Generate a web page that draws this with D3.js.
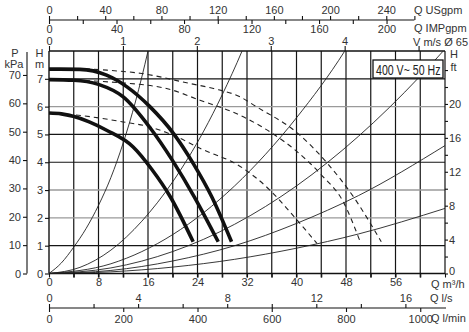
<!doctype html>
<html>
<head>
<script src="https://cdnjs.cloudflare.com/ajax/libs/d3/7.8.5/d3.min.js"></script>
<style>
body{margin:0;background:#fff;}
svg{display:block;font-family:"Liberation Sans",Arial,sans-serif;}
.axis text{font-size:11px;fill:#333;}
.axis line,.axis path{stroke:#111;stroke-width:1.1;}
.lbl{font-size:11px;fill:#333;}
</style>
</head>
<body>
<svg width="469" height="332"></svg>
<script>
// pump curves, Q in m3/h, H in m
var pumpMax = [[0,7.35],[5,7.34],[9.3,7.13],[12.6,6.71],[16.3,6.0],[20.1,5.04],[23.3,3.96],[26.3,2.76],[29.5,1.14]];
var pumpMid = [[0,6.97],[4,6.95],[8,6.8],[12,6.35],[16.3,5.25],[20,4.05],[23.5,2.75],[27.35,1.14]];
var pumpMin = [[0,5.77],[2,5.74],[3.9,5.65],[6.5,5.45],[9.3,5.15],[13.6,4.55],[16.6,3.75],[19.6,2.76],[23.3,1.14]];

// dashed curves (twin operation)
var dashMax = [[0,7.35],[5,7.36],[10,7.3],[14.7,7.2],[22.8,6.83],[26.6,6.65],[30.9,6.35],[33.5,6.0],[40.2,5.04],[45,3.96],[49.2,2.76],[53.7,1.14]];
var dashMid = [[0,6.97],[9.6,6.89],[19,6.65],[24.4,6.23],[30.9,5.69],[36,5.05],[40,4.4],[44,3.55],[47.5,2.6],[50.3,1.14]];
var dashMin = [[0,5.77],[1.8,5.75],[12,5.45],[16.3,5.27],[20.1,4.97],[24.4,4.5],[30.9,3.85],[35.7,3.0],[39,2.2],[43.3,1.08]];

// system curves from the origin
var sys1 = [[0,0],[2,0.38],[4,0.95],[6,1.62],[8,2.45],[10,3.45],[12,4.7],[14,6.2],[16,8],[17,9]];
var sys2 = [[0,0],[5,0.22],[10,0.84],[15,1.88],[20,3.3],[25,5.12],[28,6.43],[31.2,8],[33,9]];
var sys3 = [[0,0],[10,0.35],[20,1.4],[30,3.15],[40,5.6],[47.8,8],[50,8.8]];
var sys4 = [[0,0],[10,0.2],[20,0.79],[30,1.77],[40,3.15],[50,4.93],[60,7.1],[64,8.07]];
var sys5 = [[0,0],[10,0.11],[20,0.45],[30,1.0],[40,1.8],[50,2.8],[64,4.6]];
var sys6 = [[0,0],[10,0.06],[20,0.23],[30,0.51],[40,0.91],[50,1.42],[64,2.34]];

var gridQ = [4,8,12,16,20,24,28,32,36,40,44,48,52,56,60];
var gridHdark = [1,4,5,7];
var gridHgrey = [2,3,6];

var qTicks = [0,4,8,12,16,20,24,28,32,36,40,44,48,52,56,60,64];
var qLabels = [0,8,16,24,32,40,48,56];
var hTicks = [0,1,2,3,4,5,6,7];
var kpaTicks = [0,10,20,30,40,50,60,70];
var ftTicks = [0,2,4,6,8,10,12,14,16,18,20,22,24];
var ftLabels = [0,4,8,12,16,20];
var usTicks = [0,20,40,60,80,100,120,140,160,180,200,220,240,260];
var usLabels = [0,40,80,120,160,200,240];
var impTicks = [0,20,40,60,80,100,120,140,160,180,200];
var impLabels = [0,40,80,120,160,200];
var vTicks = [0,1,2,3,4,5];
var vLabels = [0,1,2,3,4];
var lsTicks = [0,2,4,6,8,10,12,14,16];
var lsLabels = [0,4,8,12,16];
var lminTicks = [0,200,400,600,800,1000];

var svg = d3.select("svg");
var L = 49, R = 445, T = 51, B = 273.5;

var x = d3.scaleLinear().domain([0,64]).range([L,R]);
var y = d3.scaleLinear().domain([0,8]).range([B,T]);
var kpa = d3.scaleLinear().domain([0,8*9.80665]).range([B,T]);
var ft = d3.scaleLinear().domain([0,8/0.3048]).range([B,T]);
var us = d3.scaleLinear().domain([0,64/0.2271247]).range([L,R]);
var imp = d3.scaleLinear().domain([0,64/0.272765]).range([L,R]);
var vel = d3.scaleLinear().domain([0,64/(3600*Math.PI*0.0325*0.0325)]).range([L,R]);
var ls = d3.scaleLinear().domain([0,64/3.6]).range([L,R]);
var lmin = d3.scaleLinear().domain([0,64/0.06]).range([L,R]);

function fmt(list){ return function(d){ return list.indexOf(d) >= 0 ? d : ""; }; }
function dropEmpty(g){ g.selectAll("text").filter(function(){ return this.textContent === ""; }).remove(); }

// grid
svg.append("g").selectAll("line").data(gridQ).enter().append("line")
  .attr("x1", d => x(d)).attr("x2", d => x(d))
  .attr("y1", T).attr("y2", B + 4)
  .attr("stroke", "#151515").attr("stroke-width", 1.2);
svg.append("g").selectAll("line").data(gridHgrey).enter().append("line")
  .attr("x1", L).attr("x2", R)
  .attr("y1", d => y(d)).attr("y2", d => y(d))
  .attr("stroke", "#9a9a9a").attr("stroke-width", 1.4);
svg.append("g").selectAll("line").data(gridHdark).enter().append("line")
  .attr("x1", L).attr("x2", R)
  .attr("y1", d => y(d)).attr("y2", d => y(d))
  .attr("stroke", "#151515").attr("stroke-width", 1.2);

// frame
svg.append("line").attr("x1", L).attr("x2", R).attr("y1", T).attr("y2", T).attr("stroke", "#111").attr("stroke-width", 1.3);
svg.append("line").attr("x1", L).attr("x2", R).attr("y1", B).attr("y2", B).attr("stroke", "#111").attr("stroke-width", 1.4);
svg.append("line").attr("x1", L).attr("x2", L).attr("y1", T).attr("y2", B).attr("stroke", "#111").attr("stroke-width", 1.4);
svg.append("line").attr("x1", R).attr("x2", R).attr("y1", T).attr("y2", B).attr("stroke", "#111").attr("stroke-width", 1.2);

svg.append("clipPath").attr("id", "plot").append("rect")
  .attr("x", L).attr("y", T).attr("width", R - L).attr("height", B - T);

var line = d3.line().x(d => x(d[0])).y(d => y(d[1])).curve(d3.curveMonotoneX);
var curves = svg.append("g").attr("clip-path", "url(#plot)");

[sys1, sys2, sys3, sys4, sys5, sys6].forEach(function(s){
  curves.append("path").attr("d", line(s)).attr("fill", "none")
    .attr("stroke", "#222").attr("stroke-width", 0.9);
});
[dashMax, dashMid, dashMin].forEach(function(s){
  curves.append("path").attr("d", line(s)).attr("fill", "none")
    .attr("stroke", "#222").attr("stroke-width", 1.1).attr("stroke-dasharray", "5,4");
});
[pumpMax, pumpMid, pumpMin].forEach(function(s){
  curves.append("path").attr("d", line(s)).attr("fill", "none")
    .attr("stroke", "#111").attr("stroke-width", 3.6);
});

// left axes
svg.append("g").attr("class", "axis").attr("transform", "translate(" + L + ",0)")
  .call(d3.axisLeft(y).tickValues(hTicks).tickSize(4).tickPadding(2).tickSizeOuter(0))
  .call(g => g.select(".domain").remove());
svg.append("g").attr("class", "axis").attr("transform", "translate(27,0)")
  .call(d3.axisLeft(kpa).tickValues(kpaTicks).tickSize(4).tickPadding(2).tickSizeOuter(0))
  .call(g => g.select(".domain").attr("d", "M0," + (T + 1) + "V" + B));

// right axis in feet
svg.append("g").attr("class", "axis").attr("transform", "translate(" + R + ",0)")
  .call(d3.axisRight(ft).tickValues(ftTicks).tickFormat(fmt(ftLabels)).tickSize(3).tickPadding(1).tickSizeOuter(0))
  .call(g => g.select(".domain").remove())
  .call(dropEmpty)
  .call(g => g.selectAll("text").filter(d => d === 0).attr("dy", "0.1em"));

// top axes
svg.append("g").attr("class", "axis").attr("transform", "translate(0," + T + ")")
  .call(d3.axisTop(vel).tickValues(vTicks).tickFormat(fmt(vLabels)).tickSize(5).tickPadding(1))
  .call(g => g.select(".domain").remove())
  .call(dropEmpty);
svg.append("g").attr("class", "axis").attr("transform", "translate(0,20)")
  .call(d3.axisTop(us).tickValues(usTicks).tickFormat(fmt(usLabels)).tickSize(4).tickPadding(2))
  .call(g => g.select(".domain").remove())
  .call(dropEmpty);
svg.append("g").attr("class", "axis").attr("transform", "translate(0,20)")
  .call(d3.axisBottom(imp).tickValues(impTicks).tickFormat(fmt(impLabels)).tickSize(4).tickPadding(1))
  .call(g => g.select(".domain").remove())
  .call(dropEmpty);
svg.append("line").attr("x1", L).attr("x2", us(260)).attr("y1", 20).attr("y2", 20)
  .attr("stroke", "#111").attr("stroke-width", 1.1);

// bottom axes
svg.append("g").attr("class", "axis").attr("transform", "translate(0," + B + ")")
  .call(d3.axisBottom(x).tickValues(qTicks).tickFormat(fmt(qLabels)).tickSize(4).tickPadding(1))
  .call(g => g.select(".domain").remove())
  .call(dropEmpty);
svg.append("g").attr("class", "axis").attr("transform", "translate(0,308)")
  .call(d3.axisTop(ls).tickValues(lsTicks).tickFormat(fmt(lsLabels)).tickSize(4).tickPadding(2))
  .call(g => g.select(".domain").remove())
  .call(dropEmpty);
svg.append("g").attr("class", "axis").attr("transform", "translate(0,308)")
  .call(d3.axisBottom(lmin).tickValues(lminTicks).tickFormat(d3.format("d")).tickSize(4).tickPadding(3))
  .call(g => g.select(".domain").remove());
svg.append("line").attr("x1", L).attr("x2", R + 1).attr("y1", 308).attr("y2", 308)
  .attr("stroke", "#111").attr("stroke-width", 1.1);

// unit labels
var labels = [
  ["P", 15, 57, "middle", 11], ["kPa", 14, 67.5, "middle", 11],
  ["H", 39.5, 57, "middle", 11], ["m", 39.5, 68, "middle", 11],
  ["H", 450, 58, "start", 11], ["ft", 450.5, 71, "start", 11],
  ["Q USgpm", 414, 14, "start", 11], ["Q IMPgpm", 414, 32, "start", 11],
  ["V m/s \u00D8 65", 413, 46, "start", 11],
  ["Q m\u00B3/h", 431, 288, "start", 11], ["Q l/s", 430, 302, "start", 11],
  ["Q l/min", 431, 322, "start", 11]
];
svg.append("g").selectAll("text").data(labels).enter().append("text")
  .attr("class", "lbl")
  .attr("x", d => d[1]).attr("y", d => d[2])
  .attr("text-anchor", d => d[3])
  .style("font-size", d => d[4] + "px")
  .text(d => d[0]);

// voltage box, narrow lettering made by squeezing a small font vertically taller
svg.append("rect").attr("x", 373).attr("y", 60).attr("width", 70).attr("height", 18)
  .attr("fill", "#fff").attr("stroke", "#111").attr("stroke-width", 1.3);
svg.append("text").attr("transform", "translate(376,74.5) scale(1,1.33)")
  .style("font-size", "10.6px").style("fill", "#222")
  .text("400 V~ 50 Hz");
</script>
</body>
</html>
